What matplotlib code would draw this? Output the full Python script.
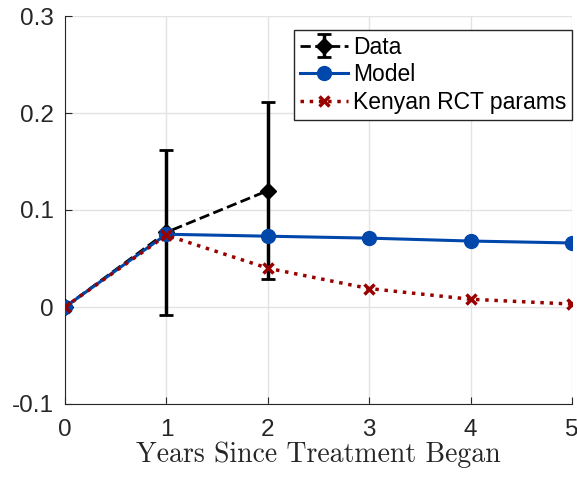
import numpy as np
import matplotlib.pyplot as plt
from matplotlib.ticker import FuncFormatter

years = [0, 1, 2, 3, 4, 5]
data_x = [0, 1, 2]
data_y = [0.0, 0.077, 0.120]
data_err = [0.0, 0.085, 0.091]
model_y = [0.0, 0.075, 0.073, 0.071, 0.068, 0.066]
kenya_y = [0.0, 0.074, 0.040, 0.019, 0.008, 0.003]

plt.rcParams['font.family'] = ['Liberation Sans', 'DejaVu Sans']

fig = plt.figure(figsize=(5.77, 4.79), dpi=100)
ax = fig.add_axes([65/577, 75/479, 507/577, 388/479])

ax.errorbar(data_x, data_y, yerr=data_err, color='black', linestyle='--',
            linewidth=2, marker='D', markersize=8, capsize=5, capthick=2,
            elinewidth=2.5, label='Data', zorder=3)
ax.plot(years, model_y, color='#0047AB', linewidth=2.2, marker='o',
        markersize=10, label='Model', zorder=4)
ax.plot(years, kenya_y, color='#990000', linestyle=':', linewidth=2.5,
        marker='x', markersize=7, markeredgewidth=2.5,
        label='Kenyan RCT params', zorder=5)

ax.set_xlim(0, 5)
ax.set_ylim(-0.1, 0.3)
ax.set_xticks(years)
ax.set_yticks([-0.1, 0, 0.1, 0.2, 0.3])
ax.yaxis.set_major_formatter(FuncFormatter(lambda v, p: '%g' % round(v, 2)))
ax.grid(True, color='#e3e3e3', linewidth=1)
ax.set_axisbelow(True)
for s in ['top', 'right']:
    ax.spines[s].set_visible(False)
for s in ['left', 'bottom']:
    ax.spines[s].set_color('#262626')
ax.tick_params(direction='in', length=5, labelsize=17.5, colors='#262626')
ax.tick_params(axis='x', pad=11)
ax.tick_params(axis='y', pad=8)
ax.set_xlabel('Years Since Treatment Began', family='cmr10', fontsize=20,
              color='#262626', labelpad=0)

h, l = ax.get_legend_handles_labels()
order = [l.index('Data'), l.index('Model'), l.index('Kenyan RCT params')]
leg = ax.legend([h[i] for i in order], [l[i] for i in order],
                loc='upper right', bbox_to_anchor=(1.0, 1 - 14/388),
                fontsize=16.5, frameon=True, fancybox=False, framealpha=1,
                handlelength=2.1, handletextpad=0.2, borderpad=0.25,
                labelspacing=0.2, borderaxespad=0)
leg.get_frame().set_edgecolor('#262626')
leg.get_frame().set_linewidth(1)

fig.savefig('out.png', dpi=100)
